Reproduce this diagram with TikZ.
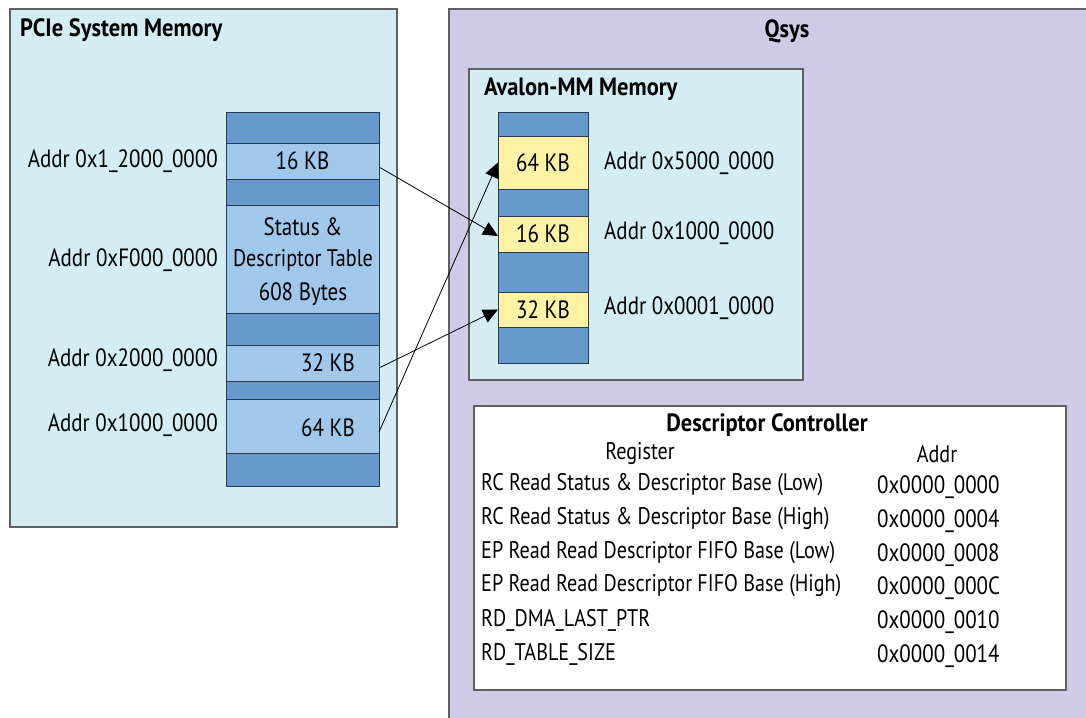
\documentclass[tikz,border=0pt]{standalone}
\usepackage{fontspec}
\setmainfont{PT Sans}[FakeStretch=0.84]
\newfontfamily\ttlfont{PT Sans}[FakeStretch=0.9]
\usetikzlibrary{arrows.meta}
\definecolor{bgblue}{HTML}{D4ECF4}
\definecolor{segdark}{HTML}{6699CC}
\definecolor{seglight}{HTML}{A0C8EA}
\definecolor{segyellow}{HTML}{FCF4A4}
\definecolor{lav}{HTML}{CFCAE6}
\definecolor{frame}{HTML}{606060}
\definecolor{segline}{HTML}{2B3A4E}
\tikzset{
  panel/.style={draw=frame, line width=1.2pt},
  seg/.style={draw=segline, line width=1pt, inner sep=0pt, outer sep=0pt},
  lseg/.style={seg, minimum width=153pt},
  aseg/.style={seg, minimum width=90pt},
  txt/.style={inner sep=0pt, font=\fontsize{25}{30}\selectfont},
  rowtxt/.style={inner sep=0pt, font=\fontsize{24}{29}\selectfont},
  ttl/.style={inner sep=0pt, font=\fontsize{25}{30}\ttlfont\bfseries},
  arr/.style={line width=0.8pt, -{Triangle[length=15pt,width=14pt]}},
}
\begin{document}
\begin{tikzpicture}[x=1pt,y=-1pt]
\useasboundingbox (0,0) rectangle (1086,717);
% panels
\draw[panel, fill=bgblue] (10,9) rectangle (397,527);
\draw[panel, fill=lav] (449,9) rectangle (1092,724);
\draw[panel, fill=bgblue] (469,69) rectangle (803,380);
\draw[panel, fill=white] (474,406) rectangle (1066,690);
\node[ttl, anchor=west] (tpcie) at (20,30) {PCIe System Memory};
\node[ttl] (tqsys) at (787,31) {Qsys};
\node[ttl, anchor=west] (tav) at (484,89) {Avalon-MM Memory};
% left stack
\node[lseg, fill=segdark, minimum height=31pt] (p0) at (302.5,127.5) {};
\node[lseg, fill=seglight, minimum height=36pt, txt] (p16) at (302.5,161) {16 KB};
\node[lseg, fill=segdark, minimum height=26pt] (p1) at (302.5,192) {};
\node[lseg, fill=seglight, minimum height=108pt] (pst) at (302.5,259) {};
\node[lseg, fill=segdark, minimum height=32pt] (p2) at (302.5,329) {};
\node[lseg, fill=seglight, minimum height=36pt] (p32) at (302.5,363) {};
\node[lseg, fill=segdark, minimum height=18pt] (p3) at (302.5,390) {};
\node[lseg, fill=seglight, minimum height=54pt] (p64) at (302.5,426) {};
\node[lseg, fill=segdark, minimum height=33pt] (p4) at (302.5,469.5) {};
\node[txt] (tst1) at (303,227) {Status \&};
\node[rowtxt] (tst2) at (303,260) {Descriptor Table};
\node[txt] (tst3) at (303,294) {608 Bytes};
\node[txt, anchor=east] (t32) at (355,363) {32 KB};
\node[txt, anchor=east] (t64) at (355,428) {64 KB};
\node[txt, anchor=east] (l1) at (218,161) {Addr 0x1\_2000\_0000};
\node[txt, anchor=east] (l2) at (218,260) {Addr 0xF000\_0000};
\node[txt, anchor=east] (l3) at (218,360) {Addr 0x2000\_0000};
\node[txt, anchor=east] (l4) at (218,425) {Addr 0x1000\_0000};
% avalon stack
\node[aseg, fill=segdark, minimum height=24pt] (a0) at (543,124) {};
\node[aseg, fill=segyellow, minimum height=53pt, txt] (a64) at (543,162.5) {64 KB};
\node[aseg, fill=segdark, minimum height=27pt] (a1) at (543,202.5) {};
\node[aseg, fill=segyellow, minimum height=36pt, txt] (a16) at (543,234) {16 KB};
\node[aseg, fill=segdark, minimum height=40pt] (a2) at (543,272) {};
\node[aseg, fill=segyellow, minimum height=35pt, txt] (a32) at (543,309.5) {32 KB};
\node[aseg, fill=segdark, minimum height=36pt] (a3) at (543,345) {};
\node[txt, anchor=west] (la1) at (604,163) {Addr 0x5000\_0000};
\node[txt, anchor=west] (la2) at (604,233) {Addr 0x1000\_0000};
\node[txt, anchor=west] (la3) at (604,308) {Addr 0x0001\_0000};
% arrows
\draw[arr] ([yshift=-6pt]p16.east) -- ([yshift=-2pt]a16.west);
\draw[arr] ([yshift=-5pt]p32.east) -- (a32.west);
\draw[arr] ([yshift=-6pt]p64.east) -- (a64.west);
% descriptor controller
\node[ttl] (tdc) at (767,425) {Descriptor Controller};
\node[rowtxt] (hreg) at (640,454) {Register};
\node[rowtxt] (haddr) at (937,454) {Addr};
\node[rowtxt, anchor=west] (r1) at (481,485) {RC Read Status \& Descriptor Base (Low)};
\node[rowtxt, anchor=west] (r2) at (481,519) {RC Read Status \& Descriptor Base (High)};
\node[rowtxt, anchor=west] (r3) at (481,553) {EP Read Read Descriptor FIFO Base (Low)};
\node[rowtxt, anchor=west] (r4) at (481,586) {EP Read Read Descriptor FIFO Base (High)};
\node[rowtxt, anchor=west] (r5) at (481,620) {RD\_DMA\_LAST\_PTR};
\node[rowtxt, anchor=west] (r6) at (481,654) {RD\_TABLE\_SIZE};
\node[txt, anchor=west] (v1) at (877,487) {0x0000\_0000};
\node[txt, anchor=west] (v2) at (877,521) {0x0000\_0004};
\node[txt, anchor=west] (v3) at (877,555) {0x0000\_0008};
\node[txt, anchor=west] (v4) at (877,588) {0x0000\_000C};
\node[txt, anchor=west] (v5) at (877,622) {0x0000\_0010};
\node[txt, anchor=west] (v6) at (877,656) {0x0000\_0014};
\end{tikzpicture}
\end{document}
